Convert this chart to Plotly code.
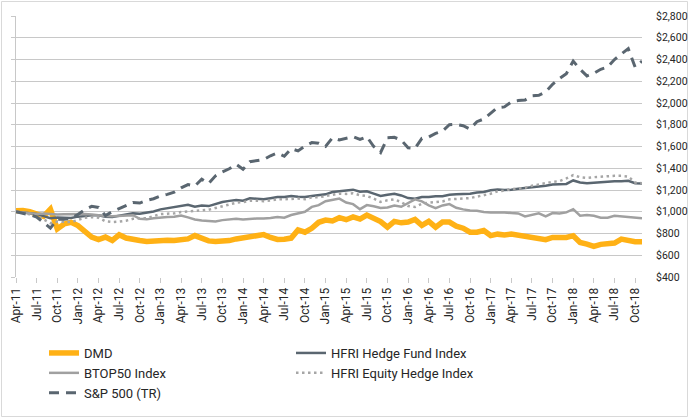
import pandas as pd
import plotly.graph_objects as go

months = [d.strftime("%b-%y") for d in pd.date_range("2011-04-01", periods=92, freq="MS")]
tick_labels = months[::3]

dmd = [1009, 1012, 1000, 979, 958, 1024, 842, 888, 903, 873, 827, 767, 745, 767, 736, 788,
       758, 740, 735, 726, 732, 738, 738, 735, 738, 750, 781, 750, 732, 726, 726, 735,
       750, 757, 775, 781, 790, 764, 745, 748, 758, 833, 812, 848, 903, 924, 915, 945,
       927, 952, 933, 970, 933, 910, 858, 911, 898, 905, 929, 874, 911, 858, 905, 905,
       868, 849, 812, 812, 828, 781, 794, 786, 795, 786, 774, 764, 755, 743, 764, 764,
       764, 780, 718, 703, 682, 700, 703, 712, 749, 734, 725, 725]

hfri_hf = [1000, 993, 982, 980, 960, 940, 948, 945, 942, 955, 965, 968, 968, 955, 952, 962,
           972, 985, 982, 991, 1003, 1022, 1034, 1040, 1052, 1065, 1046, 1058, 1052, 1071, 1089, 1100,
           1108, 1102, 1123, 1120, 1115, 1125, 1136, 1135, 1145, 1138, 1136, 1145, 1152, 1160, 1182, 1190,
           1197, 1203, 1185, 1188, 1167, 1145, 1157, 1166, 1150, 1126, 1120, 1135, 1135, 1142, 1142, 1157,
           1160, 1163, 1166, 1176, 1182, 1197, 1205, 1200, 1202, 1211, 1217, 1223, 1233, 1239, 1251, 1254,
           1256, 1288, 1269, 1263, 1269, 1275, 1278, 1281, 1281, 1285, 1262, 1260]

btop50 = [1000, 995, 985, 980, 985, 978, 975, 978, 980, 975, 980, 975, 965, 960, 958, 962,
          965, 968, 935, 930, 941, 948, 951, 954, 966, 948, 929, 920, 917, 911, 923, 932,
          935, 929, 935, 938, 939, 942, 952, 945, 970, 988, 1000, 1045, 1061, 1097, 1106, 1121,
          1085, 1070, 1024, 1061, 1050, 1034, 1040, 1058, 1046, 1083, 1114, 1095, 1058, 1034, 1058, 1071,
          1037, 1022, 1012, 1009, 997, 994, 997, 994, 988, 985, 957, 969, 985, 957, 988, 985,
          994, 1024, 963, 969, 963, 945, 945, 963, 957, 945, 939, 939]

hfri_eh = [1000, 990, 975, 965, 930, 895, 910, 905, 905, 925, 945, 950, 945, 912, 905, 910,
           918, 935, 935, 941, 960, 978, 982, 985, 997, 1003, 1012, 1015, 1018, 1034, 1052, 1071,
           1083, 1089, 1102, 1102, 1097, 1103, 1115, 1115, 1121, 1121, 1115, 1133, 1133, 1145, 1158, 1167,
           1164, 1170, 1152, 1145, 1121, 1091, 1105, 1114, 1089, 1052, 1043, 1074, 1083, 1089, 1095, 1114,
           1120, 1126, 1126, 1139, 1151, 1166, 1188, 1193, 1208, 1214, 1220, 1239, 1248, 1263, 1275, 1282,
           1306, 1337, 1318, 1312, 1318, 1324, 1324, 1330, 1330, 1324, 1269, 1263]

sp500 = [1000, 988, 972, 952, 900, 850, 930, 930, 938, 975, 1020, 1050, 1040, 965, 1000, 1030,
         1055, 1085, 1080, 1105, 1120, 1145, 1160, 1180, 1220, 1250, 1237, 1300, 1260, 1330, 1366, 1395,
         1437, 1391, 1460, 1470, 1480, 1515, 1540, 1510, 1580, 1560, 1605, 1636, 1630, 1600, 1680, 1660,
         1673, 1691, 1665, 1690, 1600, 1545, 1681, 1684, 1659, 1588, 1582, 1675, 1687, 1720, 1742, 1800,
         1804, 1791, 1761, 1828, 1853, 1905, 1958, 1964, 2010, 2022, 2028, 2065, 2071, 2102, 2172, 2224,
         2270, 2385, 2310, 2249, 2273, 2310, 2330, 2400, 2450, 2500, 2330, 2386]

ORANGE = "#FFB115"
SLATE = "#5A6670"
GRAY = "#A0A0A0"
DOTGRAY = "#A6A6A6"
GRID = "#C8C8C8"
FONT = "Roboto"

fig = go.Figure()
fig.add_trace(go.Scatter(x=months, y=dmd, name="DMD", mode="lines",
                         line=dict(color=ORANGE, width=5.5)))
fig.add_trace(go.Scatter(x=months, y=hfri_hf, name="HFRI Hedge Fund Index", mode="lines",
                         line=dict(color=SLATE, width=2.5)))
fig.add_trace(go.Scatter(x=months, y=btop50, name="BTOP50 Index", mode="lines",
                         line=dict(color=GRAY, width=2.5)))
fig.add_trace(go.Scatter(x=months, y=hfri_eh, name="HFRI Equity Hedge Index", mode="lines",
                         line=dict(color=DOTGRAY, width=2.5, dash="2.5px,3.5px")))
fig.add_trace(go.Scatter(x=months, y=sp500, name="S&P 500 (TR)", mode="lines",
                         line=dict(color=SLATE, width=3, dash="10px,7px")))
fig.add_trace(go.Scatter(x=[], y=[], yaxis="y2", showlegend=False, hoverinfo="skip"))

L, R, T, B = 16, 47, 16, 141
W, H = 689, 418
pw, ph = W - L - R, H - T - B

def px_x(p):
    return (p - L) / pw

def px_y(p):
    return (H - B - p) / ph

fig.update_layout(
    width=W, height=H,
    margin=dict(l=L, r=R, t=T, b=B, autoexpand=False),
    paper_bgcolor="white", plot_bgcolor="white",
    font=dict(family=FONT, color="#262626"),
    xaxis=dict(type="category", range=[0, len(months) - 1], automargin=False,
               tickmode="array", tickvals=tick_labels, ticktext=tick_labels,
               tickangle=-90, ticks="outside", ticklen=5, tickcolor=GRID,
               showgrid=False, showline=False, zeroline=False,
               tickfont=dict(size=12, family=FONT, color="#262626")),
    yaxis=dict(range=[400, 2800], dtick=200, side="right", tickprefix="$", automargin=False,
               tickformat=",d", showgrid=True, gridcolor=GRID, gridwidth=1,
               zeroline=False, showline=False, ticks="", ticklabelstandoff=13,
               tickfont=dict(size=10.5, family=FONT, color="#262626")),
    yaxis2=dict(range=[400, 2800], dtick=200, overlaying="y", side="left", automargin=False,
                showticklabels=False, showgrid=False, zeroline=False,
                showline=True, linecolor=GRID, linewidth=1,
                ticks="outside", ticklen=4, tickcolor=GRID),
    legend=dict(orientation="h", x=px_x(44), y=px_y(338), xanchor="left", yanchor="top",
                entrywidth=202, entrywidthmode="pixels",
                font=dict(size=13, family=FONT, color="#262626"),
                bgcolor="rgba(0,0,0,0)", itemwidth=30, tracegroupgap=0),
    showlegend=True,
    shapes=[dict(type="rect", xref="paper", yref="paper",
                 x0=px_x(1.5), x1=px_x(687.5), y0=px_y(416.5), y1=px_y(1.5),
                 line=dict(color="#D9D9D9", width=1), fillcolor="rgba(0,0,0,0)", layer="below")],
)

fig.write_html("out.html", config={"displayModeBar": False},
               post_script="document.body.style.margin='0px';document.body.style.overflow='hidden';")
